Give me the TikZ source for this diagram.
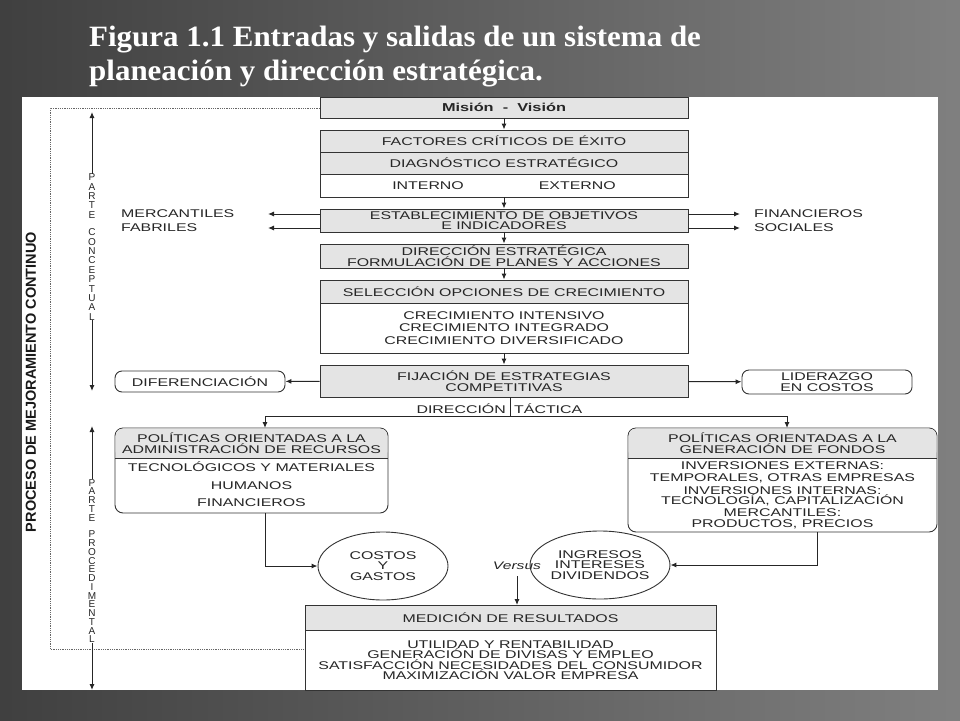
\documentclass[tikz,border=0pt]{standalone}
\usepackage{fontspec}
\setmainfont[FakeStretch=1.42]{Liberation Sans}
\newfontfamily\titlefont[FakeStretch=1.05]{Liberation Serif}
\newfontfamily\plainsans{Liberation Sans}
\usetikzlibrary{arrows.meta,shapes.geometric}
\definecolor{hdr}{HTML}{E4E4E4}
\definecolor{ln}{HTML}{333333}
\begin{document}
\begin{tikzpicture}[x=1pt,y=-1pt,
  bx/.style={draw=ln,line width=0.9pt,inner sep=0pt,align=center,font=\fontsize{11.2}{10.6}\selectfont,text=black!85},
  hd/.style={bx,fill=hdr},
  wt/.style={bx,fill=white},
  ar/.style={-{Latex[length=6pt,width=5pt]},line width=1pt,black!85},
  ln2/.style={line width=1pt,black!85},
  lbl/.style={font=\fontsize{11.2}{10.6}\selectfont,text=black!85,inner sep=1pt},
  vl/.style={align=center,inner sep=0pt,text=black!85}]
\useasboundingbox (0,0) rectangle (960,720);
\shade[left color=black!75,right color=black!50] (0,0) rectangle (960,720);
\fill[white] (22,97) rectangle (938,690);
\node[anchor=west,text=white,font=\titlefont\bfseries\fontsize{29.5}{30}\selectfont,inner sep=0] (t1) at (89,40) {Figura 1.1 Entradas y salidas de un sistema de};
\node[anchor=west,text=white,font=\titlefont\bfseries\fontsize{29.5}{30}\selectfont,inner sep=0] (t2) at (89,74) {planeación y dirección estratégica.};
% dotted loop
\coordinate (d0) at (320,108);
\coordinate (d1) at (50,108);
\coordinate (d2) at (50,649);
\coordinate (d3) at (305,649);
\draw[densely dotted,black!60,line width=0.8pt] (d0) -- (d1) -- (d2) -- (d3);
% main column
\node[hd,minimum width=368,minimum height=21,font=\bfseries\fontsize{11.5}{12}\selectfont] (mis) at (504,107.5) {Misión\ \ -\ \ Visión};
\node[hd,minimum width=368,minimum height=22] (fce) at (504,141) {FACTORES CRÍTICOS DE ÉXITO};
\node[hd,minimum width=368,minimum height=22] (dia) at (504,163) {DIAGNÓSTICO ESTRATÉGICO};
\node[wt,minimum width=368,minimum height=23] (int) at (504,185.5) {INTERNO\hspace{75pt}EXTERNO};
\node[hd,minimum width=368,minimum height=23] (est) at (504,220.5) {ESTABLECIMIENTO DE OBJETIVOS\\E INDICADORES};
\node[hd,minimum width=368,minimum height=24] (dir) at (504,256) {DIRECCIÓN ESTRATÉGICA\\FORMULACIÓN DE PLANES Y ACCIONES};
\node[hd,minimum width=368,minimum height=23] (sel) at (504,291.5) {SELECCIÓN OPCIONES DE CRECIMIENTO};
\node[wt,minimum width=368,minimum height=50,font=\fontsize{11.2}{12.2}\selectfont] (cre) at (504,328) {CRECIMIENTO INTENSIVO\\CRECIMIENTO INTEGRADO\\CRECIMIENTO DIVERSIFICADO};
\node[hd,minimum width=368,minimum height=32] (fij) at (504,381) {FIJACIÓN DE ESTRATEGIAS\\COMPETITIVAS};
\draw[ar] (mis) -- (fce);
\draw[ar] (int) -- (est);
\draw[ar] (est) -- (dir);
\draw[ar] (dir) -- (sel);
\draw[ar] (cre) -- (fij);
% side outputs
\node[lbl,anchor=west] (mer) at (120,214) {MERCANTILES};
\node[lbl,anchor=west] (fab) at (120,228) {FABRILES};
\node[lbl,anchor=west] (fin) at (753,214) {FINANCIEROS};
\node[lbl,anchor=west] (soc) at (753,228) {SOCIALES};
\coordinate (ml0) at (320,214); \coordinate (fl0) at (320,228);
\coordinate (fr0) at (688,214); \coordinate (sr0) at (688,228);
\coordinate (ml) at (268,214); \coordinate (fl) at (268,228);
\coordinate (fr) at (740,214); \coordinate (sr) at (740,228);
\draw[ar] (ml0) -- (ml);
\draw[ar] (fl0) -- (fl);
\draw[ar] (fr0) -- (fr);
\draw[ar] (sr0) -- (sr);
\node[bx,rounded corners=7pt,minimum width=170,minimum height=21] (dif) at (200,381.5) {DIFERENCIACIÓN};
\node[bx,rounded corners=7pt,minimum width=170,minimum height=24] (lid) at (827,382) {LIDERAZGO\\EN COSTOS};
\draw[ar] (fij) -- (dif);
\draw[ar] (fij) -- (lid);
% direccion tactica
\node[lbl,anchor=east] (dtl) at (507,409) {DIRECCIÓN};
\node[lbl,anchor=west] (dtr) at (513,409) {TÁCTICA};
\coordinate (tj0) at (510,397);
\coordinate (tj) at (510,416);
\draw[ln2] (tj0) -- (tj);
\node[bx,rounded corners=8pt,fill=white,minimum width=273,minimum height=85] (pl) at (251.5,470.5) {};
\node[bx,rounded corners=8pt,fill=white,minimum width=309,minimum height=104] (pr) at (782.5,480) {};
\fill[hdr,rounded corners=7pt] (115.6,428.6) rectangle (387.4,458);
\fill[hdr] (115.6,440) rectangle (387.4,458);
\fill[hdr,rounded corners=7pt] (628.6,428.6) rectangle (936.4,458);
\fill[hdr] (628.6,440) rectangle (936.4,458);
\draw[line width=0.9pt,draw=ln] (115,458) -- (388,458);
\draw[line width=0.9pt,draw=ln] (628,458) -- (937,458);
\node[lbl,align=center] (plh) at (251.5,443) {POLÍTICAS ORIENTADAS A LA\\ADMINISTRACIÓN DE RECURSOS};
\node[lbl] (pl1) at (251.5,467) {TECNOLÓGICOS Y MATERIALES};
\node[lbl] (pl2) at (251.5,486) {HUMANOS};
\node[lbl] (pl3) at (251.5,503) {FINANCIEROS};
\node[lbl,align=center] (prh) at (782.5,443) {POLÍTICAS ORIENTADAS A LA\\GENERACIÓN DE FONDOS};
\node[lbl,align=center,font=\fontsize{11.2}{10.3}\selectfont] (prb) at (782.5,495) {INVERSIONES EXTERNAS:\\[2.2pt]TEMPORALES, OTRAS EMPRESAS\\[2.2pt]INVERSIONES INTERNAS:\\TECNOLOGÍA, CAPITALIZACIÓN\\[2.2pt]MERCANTILES:\\PRODUCTOS, PRECIOS};
\coordinate (tl) at (265,416); \coordinate (tr) at (787,416);
\coordinate (tlb) at (265,428); \coordinate (trb) at (787,428);
\draw[ln2] (tl) -- (tr);
\draw[ar] (tl) -- (tlb);
\draw[ar] (tr) -- (trb);
% ellipses
\node[bx,ellipse,inner sep=0pt,minimum width=130,minimum height=68] (cos) at (383,566) {COSTOS\\Y\\GASTOS};
\node[bx,ellipse,inner sep=0pt,minimum width=132,minimum height=68] (ing) at (600,565) {INGRESOS\\INTERESES\\DIVIDENDOS};
\node[lbl,font=\itshape\fontsize{11}{11}\selectfont] (ver) at (517,566) {Versus};
\coordinate (lb) at (265,513);
\coordinate (rb) at (817,532);
\draw[ar] (lb) |- (cos.west);
\draw[ar] (rb) |- (ing.east);
% medicion
\node[hd,minimum width=411,minimum height=25] (med) at (510.5,617.5) {MEDICIÓN DE RESULTADOS};
\node[wt,minimum width=411,minimum height=60,font=\fontsize{11.2}{10.4}\selectfont] (res) at (510.5,660) {UTILIDAD Y RENTABILIDAD\\GENERACIÓN DE DIVISAS Y EMPLEO\\SATISFACCIÓN NECESIDADES DEL CONSUMIDOR\\MAXIMIZACIÓN VALOR EMPRESA};
\coordinate (vs) at (517,576);
\coordinate (vm) at (517,605);
\draw[ar] (vs) -- (vm);
% side process labels
\node[rotate=90,font=\plainsans\bfseries\fontsize{14.5}{15}\selectfont,text=black!90] (pmc) at (31,382) {PROCESO DE MEJORAMIENTO CONTINUO};
\node[vl,font=\plainsans\fontsize{10}{9.4}\selectfont] (pc) at (92,247) {P\\A\\R\\T\\E\\[8pt]C\\O\\N\\C\\E\\P\\T\\U\\A\\L};
\coordinate (a1) at (92,112); \coordinate (a2) at (92,391);
\draw[ar] (pc.north) -- (a1);
\draw[ar] (pc.south) -- (a2);
\node[vl,font=\plainsans\fontsize{10}{8.75}\selectfont] (pp) at (92,561) {P\\A\\R\\T\\E\\[8pt]P\\R\\O\\C\\E\\D\\I\\M\\E\\N\\T\\A\\L};
\coordinate (b1) at (92,426); \coordinate (b2) at (92,690);
\draw[ar] (pp.north) -- (b1);
\draw[ar] (pp.south) -- (b2);
\end{tikzpicture}
\end{document}
